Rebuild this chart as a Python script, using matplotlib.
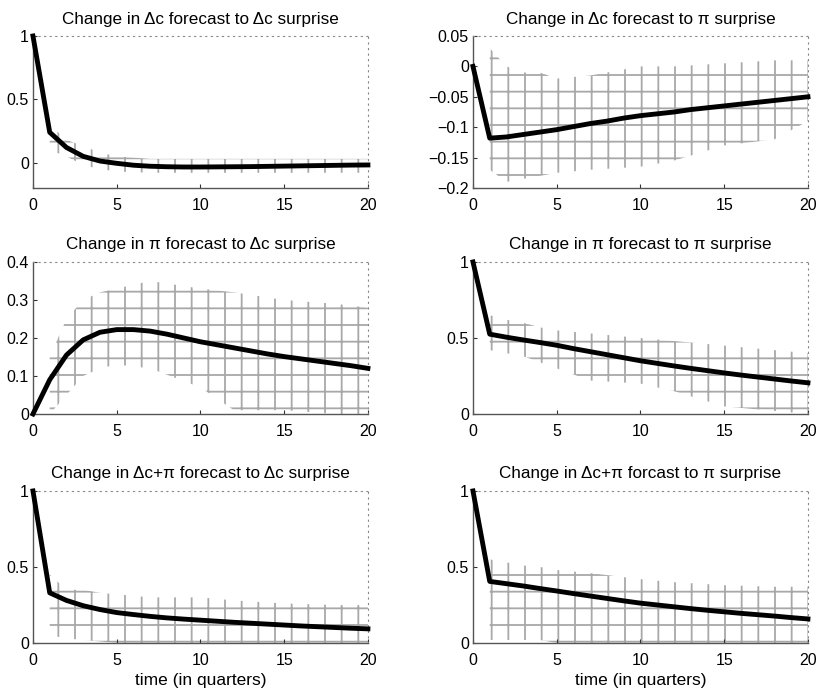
import matplotlib
matplotlib.use('Agg')
import matplotlib.pyplot as plt

plt.rcParams['font.family'] = ['Liberation Sans', 'DejaVu Sans']
plt.rcParams['hatch.linewidth'] = 1.3

quarters = list(range(21))

titles = [
    'Change in \u0394c forecast to \u0394c surprise',
    'Change in \u0394c forecast to \u03c0 surprise',
    'Change in \u03c0 forecast to \u0394c surprise',
    'Change in \u03c0 forecast to \u03c0 surprise',
    'Change in \u0394c+\u03c0 forecast to \u0394c surprise',
    'Change in \u0394c+\u03c0 forcast to \u03c0 surprise',
]

dc_dc = [1.0, 0.24, 0.12, 0.05, 0.013, -0.005, -0.02, -0.028, -0.032, -0.034, -0.034,
         -0.033, -0.032, -0.031, -0.029, -0.027, -0.025, -0.023, -0.021, -0.019, -0.018]
dc_pi = [0.0, -0.118, -0.116, -0.112, -0.108, -0.104, -0.099, -0.094, -0.090, -0.085, -0.081,
         -0.078, -0.075, -0.071, -0.068, -0.065, -0.062, -0.059, -0.056, -0.053, -0.050]
pi_dc = [0.0, 0.09, 0.155, 0.195, 0.215, 0.222, 0.222, 0.218, 0.21, 0.2, 0.19,
         0.182, 0.174, 0.166, 0.158, 0.151, 0.145, 0.139, 0.133, 0.127, 0.12]
pi_pi = [1.0, 0.525, 0.505, 0.487, 0.47, 0.452, 0.43, 0.41, 0.39, 0.37, 0.35,
         0.333, 0.316, 0.30, 0.285, 0.27, 0.256, 0.243, 0.23, 0.217, 0.205]
sum_dc = [1.0, 0.33, 0.28, 0.245, 0.22, 0.2, 0.187, 0.175, 0.165, 0.157, 0.15,
          0.143, 0.136, 0.13, 0.124, 0.118, 0.112, 0.107, 0.102, 0.097, 0.093]
sum_pi = [1.0, 0.405, 0.39, 0.375, 0.358, 0.342, 0.325, 0.309, 0.293, 0.277, 0.262,
          0.25, 0.238, 0.226, 0.215, 0.205, 0.195, 0.186, 0.177, 0.167, 0.158]

# gray bands (rough reading of the speckled area), given at these x points
band_x = [1, 2, 3, 4, 5, 7, 10, 12, 15, 18, 20]
up_dc_dc = [0.30, 0.18, 0.13, 0.08, 0.05, 0.03, 0.03, 0.03, 0.03, 0.03, 0.03]
lo_dc_dc = [0.10, 0.05, -0.02, -0.05, -0.07, -0.08, -0.08, -0.08, -0.08, -0.08, -0.08]
up_dc_pi = [0.03, 0.0, -0.01, -0.01, -0.02, -0.015, 0.0, 0.0, 0.005, 0.01, 0.01]
lo_dc_pi = [-0.17, -0.19, -0.185, -0.18, -0.175, -0.17, -0.165, -0.155, -0.13, -0.12, -0.09]
up_pi_dc = [0.15, 0.25, 0.30, 0.32, 0.33, 0.35, 0.33, 0.32, 0.30, 0.29, 0.28]
lo_pi_dc = [0.0, 0.05, 0.10, 0.12, 0.13, 0.12, 0.07, 0.01, 0.01, 0.0, 0.0]
up_pi_pi = [0.65, 0.62, 0.60, 0.57, 0.55, 0.53, 0.50, 0.48, 0.45, 0.42, 0.40]
lo_pi_pi = [0.42, 0.40, 0.38, 0.34, 0.30, 0.22, 0.20, 0.15, 0.05, 0.02, 0.0]
up_sum_dc = [0.45, 0.35, 0.35, 0.33, 0.32, 0.30, 0.30, 0.28, 0.26, 0.25, 0.25]
lo_sum_dc = [0.05, 0.03, 0.02, 0.01, 0.0, 0.0, 0.0, 0.0, 0.0, 0.0, 0.0]
up_sum_pi = [0.55, 0.53, 0.51, 0.50, 0.48, 0.46, 0.42, 0.40, 0.38, 0.37, 0.37]
lo_sum_pi = [0.02, 0.02, 0.02, 0.02, 0.0, 0.0, 0.0, 0.0, 0.0, 0.0, 0.0]

lines = [dc_dc, dc_pi, pi_dc, pi_pi, sum_dc, sum_pi]
uppers = [up_dc_dc, up_dc_pi, up_pi_dc, up_pi_pi, up_sum_dc, up_sum_pi]
lowers = [lo_dc_dc, lo_dc_pi, lo_pi_dc, lo_pi_pi, lo_sum_dc, lo_sum_pi]
ylims = [(-0.2, 1), (-0.2, 0.05), (0, 0.4), (0, 1), (0, 1), (0, 1)]
yticks = [[0, 0.5, 1], [-0.2, -0.15, -0.1, -0.05, 0, 0.05], [0, 0.1, 0.2, 0.3, 0.4],
          [0, 0.5, 1], [0, 0.5, 1], [0, 0.5, 1]]
ytick_labels = [['0', '0.5', '1'], ['\u22120.2', '\u22120.15', '\u22120.1', '\u22120.05', '0', '0.05'],
                ['0', '0.1', '0.2', '0.3', '0.4'], ['0', '0.5', '1'], ['0', '0.5', '1'], ['0', '0.5', '1']]

fig = plt.figure(figsize=(8.2, 6.91), dpi=100)
lefts = [0.0402, 0.5768]
bottoms = [0.7279, 0.4009, 0.0695]
w, h = 0.4085, 0.22

for i in range(6):
	ax = fig.add_axes([lefts[i % 2], bottoms[i // 2], w, h])
	ax.fill_between(band_x, lowers[i], uppers[i], facecolor='none', edgecolor='#a8a8a8',
	                hatch='+', linewidth=0)
	ax.plot(quarters, lines[i], color='black', linewidth=3.5, clip_on=False,
	        solid_joinstyle='round', zorder=5)
	ax.set_xlim(0, 20)
	ax.set_ylim(*ylims[i])
	ax.set_xticks([0, 5, 10, 15, 20])
	ax.set_yticks(yticks[i])
	ax.set_yticklabels(ytick_labels[i])
	ax.tick_params(direction='in', length=3, labelsize=11.5, color='#333333')
	ax.tick_params(axis='x', pad=7)
	ax.tick_params(axis='y', pad=3)
	ax.set_title(titles[i], fontsize=12.3, pad=9)
	for s in ['left', 'bottom']:
		ax.spines[s].set_color('#555555')
		ax.spines[s].set_linewidth(1.0)
	for s in ['top', 'right']:
		ax.spines[s].set_color('#888888')
		ax.spines[s].set_linewidth(0.8)
		ax.spines[s].set_linestyle((0, (1, 4)))
	if i >= 4:
		ax.set_xlabel('time (in quarters)', fontsize=12.5, labelpad=4)

fig.savefig('out.png', dpi=100)
